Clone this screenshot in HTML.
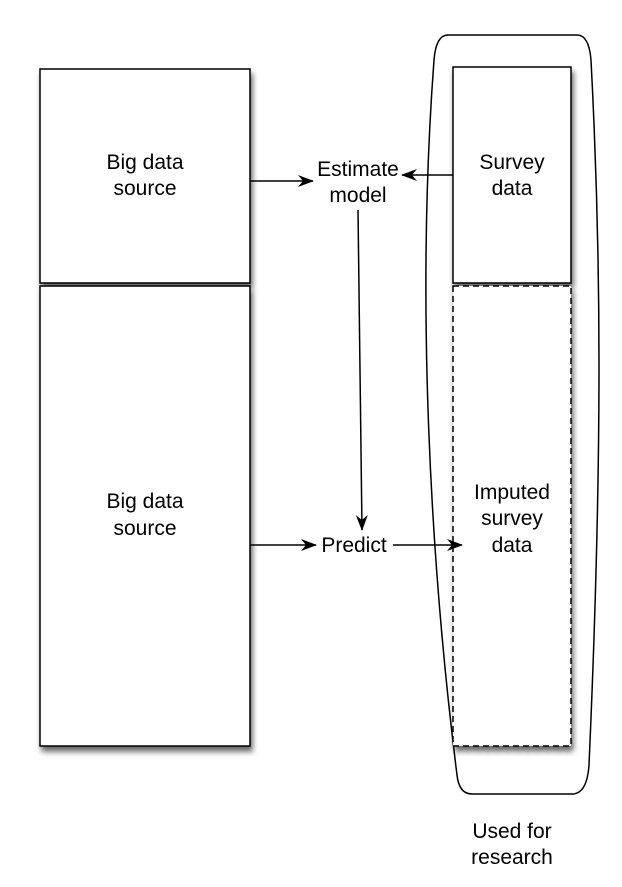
<!DOCTYPE html>
<html><head><style>
html,body{margin:0;padding:0;background:#fff;}
svg text{font-family:"Liberation Sans",Arial,sans-serif;font-size:21px;fill:#000;text-anchor:middle;}
</style></head><body>
<svg width="622" height="882" viewBox="0 0 622 882" xmlns="http://www.w3.org/2000/svg">
<defs>
<filter id="sh" x="-10%" y="-10%" width="130%" height="130%">
<feGaussianBlur in="SourceAlpha" stdDeviation="3"/>
<feOffset dx="2" dy="5" result="b"/>
<feComponentTransfer><feFuncA type="linear" slope="0.6"/></feComponentTransfer>
<feMerge><feMergeNode/><feMergeNode in="SourceGraphic"/></feMerge>
</filter>
<marker id="ar" markerWidth="16" markerHeight="12" refX="15" refY="6" orient="auto" markerUnits="userSpaceOnUse">
<path d="M0,0 L16,6 L0,12 L5,6 Z" fill="#000"/>
</marker>
</defs>
<path d="M448,35 L577,35 Q589,35 591,60 C601,250 603,450 589,765 Q587,794 572,794 L472,794 Q459,794 457,775 C430,560 416,300 434,60 Q436,35 448,35 Z" fill="none" stroke="#000" stroke-width="1.5"/>
<rect x="40" y="69" width="210" height="214" fill="#fff" stroke="#000" stroke-width="1.5" filter="url(#sh)"/>
<rect x="40" y="286" width="210" height="460" fill="#fff" stroke="#000" stroke-width="1.5" filter="url(#sh)"/>
<rect x="453" y="67" width="118" height="216" fill="#fff" stroke="#000" stroke-width="1.5" filter="url(#sh)"/>
<rect x="453" y="286" width="118" height="460" fill="#fff" stroke="#000" stroke-width="1.5" stroke-dasharray="6,4" filter="url(#sh)"/>
<line x1="250" y1="181" x2="313" y2="181" stroke="#000" stroke-width="1.5" marker-end="url(#ar)"/>
<line x1="453" y1="175" x2="402" y2="175" stroke="#000" stroke-width="1.5" marker-end="url(#ar)"/>
<line x1="358" y1="210" x2="362" y2="530" stroke="#000" stroke-width="1.5" marker-end="url(#ar)"/>
<line x1="250" y1="545" x2="316" y2="545" stroke="#000" stroke-width="1.5" marker-end="url(#ar)"/>
<line x1="393" y1="545" x2="462" y2="545" stroke="#000" stroke-width="1.5" marker-end="url(#ar)"/>
<text x="145" y="169">Big data</text>
<text x="145" y="195">source</text>
<text x="145" y="508">Big data</text>
<text x="145" y="535">source</text>
<text x="358" y="176">Estimate</text>
<text x="358" y="202">model</text>
<text x="512" y="169">Survey</text>
<text x="512" y="195">data</text>
<text x="512" y="499">Imputed</text>
<text x="512" y="525">survey</text>
<text x="512" y="552">data</text>
<text x="354" y="552">Predict</text>
<text x="512" y="838">Used for</text>
<text x="512" y="864">research</text>
</svg>
</body></html>
